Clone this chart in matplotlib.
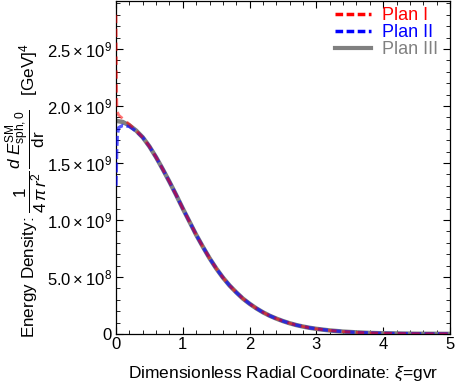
import matplotlib
matplotlib.use("Agg")
import matplotlib.pyplot as plt
from matplotlib.ticker import MultipleLocator, FuncFormatter
from matplotlib.lines import Line2D

plt.rcParams['font.family'] = ['Liberation Sans', 'DejaVu Sans']
plt.rcParams['mathtext.fontset'] = 'custom'
plt.rcParams['mathtext.rm'] = 'Liberation Sans'
plt.rcParams['mathtext.it'] = 'Liberation Sans:italic'
plt.rcParams['mathtext.sf'] = 'Liberation Sans'
plt.rcParams['mathtext.bf'] = 'Liberation Sans:bold'

# Plan III (common curve), values in units of 1e9 GeV^4
x3 = [0, 0.1, 0.2, 0.3, 0.4, 0.5, 0.6, 0.7, 0.8, 0.9, 1.0, 1.1, 1.2, 1.3,
      1.4, 1.5, 1.6, 1.7, 1.8, 1.9, 2.0, 2.1, 2.2, 2.3, 2.4, 2.5, 2.6, 2.7,
      2.8, 2.9, 3.0, 3.2, 3.4, 3.6, 3.8, 4.0, 4.5, 5.0]
y3 = [1.87, 1.86, 1.83, 1.785, 1.725, 1.645, 1.55, 1.445, 1.335, 1.22, 1.10,
      0.985, 0.87, 0.765, 0.665, 0.575, 0.495, 0.425, 0.365, 0.31, 0.265,
      0.225, 0.19, 0.16, 0.135, 0.113, 0.094, 0.078, 0.065, 0.054, 0.045,
      0.031, 0.021, 0.014, 0.009, 0.006, 0.002, 0.0008]

# Plan I
x1 = [0, 0.004, 0.008, 0.012, 0.02, 0.04, 0.1, 0.2, 0.3, 0.4, 0.5, 0.6, 0.7,
      0.8, 0.9, 1.0, 1.1, 1.2, 1.3, 1.4, 1.5, 1.6, 1.7, 1.8, 1.9, 2.0, 2.1,
      2.2, 2.3, 2.4, 2.5, 2.6, 2.7, 2.8, 2.9, 3.0, 3.2, 3.4, 3.6, 3.8, 4.0,
      4.5, 5.0]
y1 = [2.80, 2.50, 2.20, 2.02, 1.95, 1.92, 1.89, 1.84, 1.785, 1.725, 1.645,
      1.55, 1.445, 1.335, 1.22, 1.10, 0.985, 0.87, 0.765, 0.665, 0.575, 0.495,
      0.425, 0.365, 0.31, 0.265, 0.225, 0.19, 0.16, 0.135, 0.113, 0.094,
      0.078, 0.065, 0.054, 0.045, 0.031, 0.021, 0.014, 0.009, 0.006, 0.002,
      0.0008]

# Plan II
x2 = [0, 0.005, 0.01, 0.02, 0.04, 0.1, 0.2, 0.3, 0.4, 0.5, 0.6, 0.7, 0.8,
      0.9, 1.0, 1.1, 1.2, 1.3, 1.4, 1.5, 1.6, 1.7, 1.8, 1.9, 2.0, 2.1, 2.2,
      2.3, 2.4, 2.5, 2.6, 2.7, 2.8, 2.9, 3.0, 3.2, 3.4, 3.6, 3.8, 4.0, 4.5,
      5.0]
y2 = [1.30, 1.45, 1.60, 1.75, 1.81, 1.83, 1.82, 1.78, 1.725, 1.645, 1.55,
      1.445, 1.335, 1.22, 1.10, 0.985, 0.87, 0.765, 0.665, 0.575, 0.495, 0.425,
      0.365, 0.31, 0.265, 0.225, 0.19, 0.16, 0.135, 0.113, 0.094, 0.078,
      0.065, 0.054, 0.045, 0.031, 0.021, 0.014, 0.009, 0.006, 0.002, 0.0008]

labels = ["Plan I", "Plan II", "Plan III"]
colors = ["#ff0000", "#0000ff", "#808080"]

fig = plt.figure(figsize=(4.55, 3.82), dpi=100)
ax = fig.add_axes([0.255, 0.1257, 0.734, 0.8713])

ax.plot(x3, [v * 1e9 for v in y3], color=colors[2], lw=3.2, solid_capstyle='butt', zorder=2)
ax.plot(x2, [v * 1e9 for v in y2], color=colors[1], lw=2.4, ls=(0, (3, 1.0)), alpha=0.65, zorder=3)
ax.plot(x1, [v * 1e9 for v in y1], color=colors[0], lw=2.0, ls=(0, (3, 2.0)), alpha=0.55, zorder=4)

ax.set_xlim(0, 5)
ax.set_ylim(0, 2.92e9)

ax.xaxis.set_major_locator(MultipleLocator(1))
ax.xaxis.set_minor_locator(MultipleLocator(0.2))
ax.yaxis.set_major_locator(MultipleLocator(5e8))
ax.yaxis.set_minor_locator(MultipleLocator(1e8))

def yfmt(v, pos):
    if abs(v) < 1:
        return "0"
    e = 0
    m = v
    while m >= 10:
        m /= 10
        e += 1
    return r"$%.1f\times10^{%d}$" % (m, e)

ax.yaxis.set_major_formatter(FuncFormatter(yfmt))
ax.xaxis.set_major_formatter(FuncFormatter(lambda v, p: "%d" % v))

ax.tick_params(which='both', direction='in', top=True, right=True, labelsize=12, color='black')
ax.tick_params(which='major', length=5, width=0.8)
ax.tick_params(which='minor', length=3, width=0.6)
ax.tick_params(axis='x', pad=2)
ax.tick_params(axis='y', pad=3)
for s in ax.spines.values():
    s.set_linewidth(0.9)

ax.set_xlabel(r"Dimensionless Radial Coordinate: $\xi$=gvr", fontsize=12.5, labelpad=9)
ax.set_ylabel(r"Energy Density: $\dfrac{1}{4\,\pi\, r^2}\,\dfrac{d\;E^{\mathrm{SM}}_{\mathrm{sph,0}}}{\mathrm{dr}}$   [GeV]$^4$",
              fontsize=12.3, labelpad=2)
ax.yaxis.set_label_coords(-0.197, 0.43)

handles = [Line2D([], [], color=colors[0], lw=2.5, ls=(0, (2.2, 1.0))),
           Line2D([], [], color=colors[1], lw=2.5, ls=(0, (2.2, 1.0))),
           Line2D([], [], color=colors[2], lw=3.0)]
leg = ax.legend(handles, labels, loc='upper right', frameon=False, fontsize=13,
                handlelength=2.0, handletextpad=0.6, borderaxespad=0.1,
                labelspacing=0.0, bbox_to_anchor=(0.99, 1.01))
for t, c in zip(leg.get_texts(), colors):
    t.set_color(c)

fig.savefig("out.png", dpi=100)
